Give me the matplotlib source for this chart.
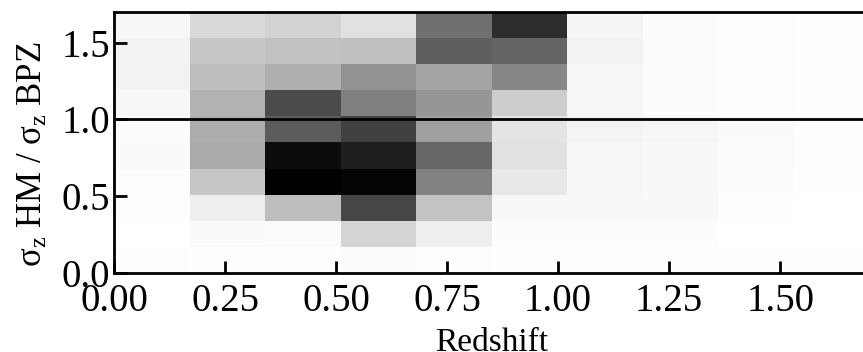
import numpy as np
import matplotlib
matplotlib.use("Agg")
import matplotlib.pyplot as plt

# bin edges (redshift and sigma ratio)
x_edges = np.arange(0, 11) * 0.17
y_edges = np.arange(0, 11) * 0.17

# estimated darkness of each cell (0 = empty, 255 = max), rows bottom -> top
density = np.array([
    [2, 1, 1, 4, 2, 1, 1, 1, 1, 1],
    [0, 5, 4, 43, 17, 3, 3, 3, 0, 0],
    [2, 17, 65, 185, 60, 7, 7, 7, 1, 0],
    [2, 57, 255, 250, 125, 23, 9, 7, 3, 1],
    [5, 85, 243, 225, 153, 30, 9, 7, 4, 2],
    [4, 83, 163, 190, 95, 27, 11, 9, 5, 2],
    [8, 77, 180, 127, 105, 50, 9, 3, 2, 1],
    [13, 65, 80, 108, 90, 120, 9, 3, 2, 1],
    [13, 57, 62, 63, 160, 155, 13, 3, 2, 1],
    [8, 37, 45, 30, 143, 210, 10, 3, 2, 1],
])

xticks = [0.0, 0.25, 0.5, 0.75, 1.0, 1.25, 1.5]
yticks = [0.0, 0.5, 1.0, 1.5]

plt.rcParams['font.family'] = 'Liberation Serif'
plt.rcParams['mathtext.fontset'] = 'custom'
plt.rcParams['mathtext.rm'] = 'Liberation Serif'
plt.rcParams['mathtext.it'] = 'Liberation Serif:italic'

fig = plt.figure(figsize=(8.63, 3.52), dpi=100)
ax = fig.add_axes([114/863., 79/352., 755/863., 261/352.])

ax.pcolormesh(x_edges, y_edges, density, cmap='gray_r', vmin=0, vmax=255)
ax.axhline(1.0, color='black', lw=2)

ax.set_xlim(0, 1.7)
ax.set_ylim(0, 1.7)
ax.set_xticks(xticks)
ax.set_xticklabels(['%.2f' % t for t in xticks])
ax.set_yticks(yticks)
ax.set_yticklabels(['%.1f' % t for t in yticks])
ax.tick_params(direction='in', length=9, width=2, labelsize=28)
ax.tick_params(axis='x', pad=7)
ax.tick_params(axis='y', pad=3)
for s in ax.spines.values():
    s.set_linewidth(2)
ax.spines['right'].set_visible(False)

ax.set_xlabel('Redshift', fontsize=24)
ax.xaxis.set_label_coords(0.5, -0.21)
ax.set_ylabel(r'σ$_\mathregular{z}$ HM / σ$_\mathregular{z}$ BPZ', fontsize=25)
ax.yaxis.set_label_coords(-0.085, 0.456)

plt.savefig('out.png', dpi=100)
